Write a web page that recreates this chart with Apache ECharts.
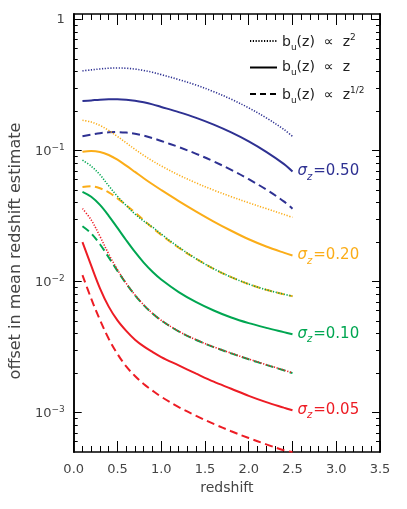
<!DOCTYPE html>
<html><head><meta charset="utf-8">
<script src="https://cdn.jsdelivr.net/npm/echarts@6/dist/echarts.min.js"></script>
<style>html,body{margin:0;padding:0;background:#fff}#c{width:407px;height:509px}</style>
</head><body><div id="c"></div>
<script>
// ---- data ----
const redshift = [0.1,0.2,0.3,0.4,0.5,0.6,0.7,0.8,0.9,1.0,1.2,1.4,1.6,1.8,2.0,2.2,2.4,2.5];

const sig050_z2 = [0.405,0.412,0.419,0.424,0.426,0.424,0.418,0.408,0.395,0.379,0.3475,0.3155,0.281,0.246,0.2113,0.1774,0.145,0.128];
const sig050_z  = [0.238,0.241,0.2443,0.2459,0.2458,0.2438,0.2395,0.233,0.2248,0.2149,0.1963,0.1773,0.1574,0.1373,0.1173,0.0976,0.079,0.0691];
const sig050_zh = [0.1285,0.1321,0.1356,0.1375,0.1381,0.137,0.1341,0.1298,0.1243,0.1182,0.1062,0.0943,0.0825,0.0711,0.0604,0.0503,0.0409,0.0359];

const sig020_z2 = [0.170,0.165,0.1552,0.1422,0.1279,0.1142,0.102,0.0917,0.0833,0.0762,0.065,0.0565,0.0498,0.0444,0.0399,0.036,0.0325,0.0309];
const sig020_z  = [0.0976,0.099,0.0973,0.0924,0.085,0.0766,0.0686,0.0614,0.0552,0.0499,0.0411,0.0342,0.0287,0.0244,0.021,0.0185,0.0166,0.0158];
const sig020_zh = [0.0527,0.0533,0.0515,0.0478,0.0431,0.0382,0.0336,0.0294,0.0257,0.0227,0.0181,0.0149,0.0125,0.0108,0.00955,0.00865,0.0080,0.00773];

const sig010_z2 = [0.0843,0.0759,0.0653,0.0537,0.0447,0.038,0.0327,0.0289,0.026,0.023,0.0183,0.0149,0.0125,0.0108,0.00955,0.00865,0.0080,0.00773];
const sig010_z  = [0.0483,0.0443,0.0384,0.03173,0.02564,0.02065,0.0168,0.01394,0.01187,0.01036,0.00831,0.00696,0.00601,0.00531,0.00481,0.00443,0.00411,0.00396];
const sig010_zh = [0.0264,0.02328,0.01925,0.01529,0.01205,0.00963,0.00787,0.00661,0.0057,0.00505,0.00416,0.00358,0.00316,0.00283,0.00255,0.00231,0.0021,0.0020];

const sig005_z2 = [0.036,0.0295,0.0221,0.0162,0.0123,0.00968,0.0079,0.00663,0.00571,0.00506,0.00417,0.00359,0.00317,0.00284,0.00256,0.00232,0.00211,0.00201];
const sig005_z  = [0.0200,0.01321,0.00888,0.00643,0.00505,0.0042,0.0036,0.0032,0.0029,0.00265,0.00229,0.00198,0.00172,0.00152,0.00134,0.0012,0.00109,0.00104];
const sig005_zh = [0.0112,0.0074,0.00509,0.00366,0.0028,0.00225,0.0019,0.00165,0.00147,0.00132,0.0011,0.000943,0.000819,0.00072,0.000639,0.000572,0.000516,0.0005];

const sigmaLabels = ['0.50','0.20','0.10','0.05'];
const xTickLabels = ['0.0','0.5','1.0','1.5','2.0','2.5','3.0','3.5'];
const yMajorTicks = [0.001,0.01,0.1,1];
const yMinorTicks = [0.0006,0.0007,0.0008,0.0009,
  0.002,0.003,0.004,0.005,0.006,0.007,0.008,0.009,
  0.02,0.03,0.04,0.05,0.06,0.07,0.08,0.09,
  0.2,0.3,0.4,0.5,0.6,0.7,0.8,0.9];
const legendNames = ['z2','z','zh'];

// ---- style ----
const FONT = 'DejaVu Sans';
const C = {navy:'#2e3192', orange:'#fbad18', green:'#00a651', red:'#ed1c24'};
const DOT = [1.2,1.6], DASH = [8,4.5];

function pairs(arr){ return redshift.map((x,i)=>[x,arr[i]]); }
function ser(name, arr, color, kind, sigma){
  const s = {
    name, type:'line', data:pairs(arr), smooth:0.35, symbol:'none', silent:true,
    xAxisIndex:0, yAxisIndex:0,
    lineStyle:{color, width: kind==='dot'?1.6:2, type: kind==='dot'?DOT:(kind==='dash'?DASH:'solid')},
    itemStyle:{color}, z: 3
  };
  if (sigma){
    s.endLabel = {show:true, distance:5, color, fontFamily:FONT,
      formatter: '{s|σ}{sub|z}{t|=' + sigma + '}',
      rich:{
        s:{fontSize:15, fontStyle:'italic', fontFamily:FONT, color, verticalAlign:'bottom'},
        sub:{fontSize:10, fontStyle:'italic', fontFamily:FONT, color, verticalAlign:'bottom', padding:[0,1,-3,0]},
        t:{fontSize:15, fontFamily:FONT, color, verticalAlign:'bottom'}
      }};
  }
  return s;
}

const series = [
  ser('a1', sig050_z2, C.navy, 'dot'),
  ser('a2', sig050_z,  C.navy, 'solid', sigmaLabels[0]),
  ser('a3', sig050_zh, C.navy, 'dash'),
  ser('b1', sig020_z2, C.orange, 'dot'),
  ser('b2', sig020_z,  C.orange, 'solid', sigmaLabels[1]),
  ser('b3', sig020_zh, C.orange, 'dash'),
  ser('c1', sig010_z2, C.green, 'dot'),
  ser('c2', sig010_z,  C.green, 'solid', sigmaLabels[2]),
  ser('c3', sig010_zh, C.green, 'dash'),
  ser('d1', sig005_z2, C.red, 'dot'),
  ser('d2', sig005_z,  C.red, 'solid', sigmaLabels[3]),
  ser('d3', sig005_zh, C.red, 'dash'),
  {name:'z2', type:'line', data:[], symbol:'none', color:'#000', lineStyle:{color:'#000', width:1.5, type:DOT}},
  {name:'z',  type:'line', data:[], symbol:'none', color:'#000', lineStyle:{color:'#000', width:2, type:'solid'}},
  {name:'zh', type:'line', data:[], symbol:'none', color:'#000', lineStyle:{color:'#000', width:2, type:[6,4]}}
];

const axisLine = {show:true, lineStyle:{color:'#000', width:1.5}};
const tickStyle = {color:'#000', width:1};

function xAx(pos, showLabel){
  return {type:'value', position:pos, min:0, max:3.5, interval:0.5,
    axisLine, splitLine:{show:false},
    axisTick:{show:true, inside:true, length:11, lineStyle:tickStyle},
    minorTick:{show:true, splitNumber:5, length:6, lineStyle:tickStyle},
    axisLabel: showLabel ? {show:true, color:'#444', fontSize:13, fontFamily:FONT, margin:11,
      formatter: v => xTickLabels[Math.round(v/0.5)]} : {show:false},
    name: showLabel ? 'redshift' : '', nameLocation:'middle', nameGap:29,
    nameTextStyle:{color:'#444', fontSize:14, fontFamily:FONT}
  };
}
function yAx(pos, major, showLabel){
  const vals = major ? yMajorTicks : yMinorTicks;
  return {type:'log', logBase:10, position:pos, min:0.0005, max:1.1,
    axisLine, splitLine:{show:false}, minorTick:{show:false},
    axisTick:{show:true, inside:true, length: major?8:4, lineStyle:tickStyle, customValues: vals},
    axisLabel: showLabel ? {show:true, customValues: vals, color:'#444', fontSize:13, fontFamily:FONT, margin:9,
      formatter: v => { const e = Math.round(Math.log10(v)); return e===0 ? '{b|1}' : '{b|10}{sup|−' + (-e) + '}'; },
      rich:{ b:{fontSize:13, fontFamily:FONT, color:'#444', verticalAlign:'bottom'},
             sup:{fontSize:9, fontFamily:FONT, color:'#444', verticalAlign:'bottom', padding:[0,0,6,0]} }
    } : {show:false},
    name: showLabel ? 'offset in mean redshift estimate' : '', nameLocation:'middle', nameGap:49,
    nameTextStyle:{color:'#444', fontSize:16, fontFamily:FONT, padding:[0,36,0,0]}
  };
}

const legendRich = {
  n:{fontSize:14, fontFamily:FONT, color:'#222', verticalAlign:'bottom'},
  sub:{fontSize:9, fontFamily:FONT, color:'#222', verticalAlign:'bottom', padding:[0,0,-3,0]},
  sup:{fontSize:9, fontFamily:FONT, color:'#222', verticalAlign:'bottom', padding:[0,0,7,0]}
};
const legendText = {
  z2: '{n|b}{sub|u}{n|(z)  ∝  z}{sup|2}',
  z:  '{n|b}{sub|u}{n|(z)  ∝  z}',
  zh: '{n|b}{sub|u}{n|(z)  ∝  z}{sup|1/2}'
};

const chart = echarts.init(document.getElementById('c'), null, {renderer:'canvas'});
chart.setOption({
  animation:false,
  backgroundColor:'#fff',
  grid:{left:62.7, right:27, top:14, bottom:57, containLabel:false},
  xAxis:[xAx('bottom', true), xAx('top', false)],
  yAxis:[yAx('left', true, true), yAx('left', false, false), yAx('right', true, false), yAx('right', false, false)],
  legend:{show:true, data:legendNames, orient:'vertical', left:244, top:28, itemWidth:27, itemHeight:14,
    itemGap:8.5, selectedMode:false, formatter: n => legendText[n],
    itemStyle:{color:'rgba(0,0,0,0)', borderColor:'rgba(0,0,0,0)', borderWidth:0},
    textStyle:{fontFamily:FONT, fontSize:14, color:'#222', rich:legendRich}},
  series
});
</script></body></html>
